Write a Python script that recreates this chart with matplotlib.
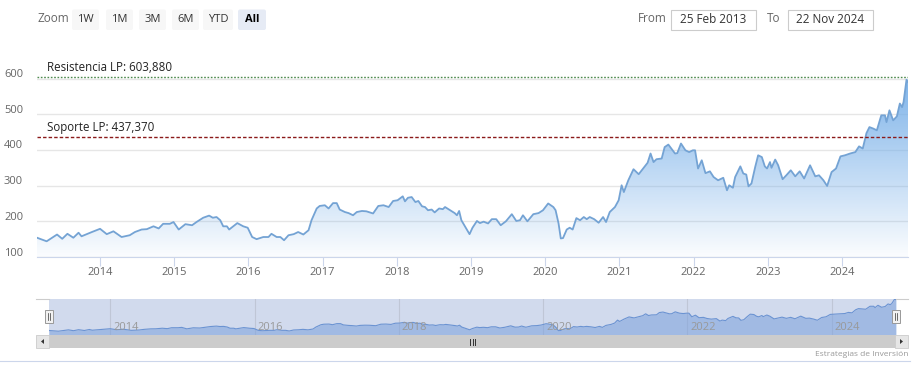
import matplotlib
matplotlib.use("Agg")
import matplotlib.pyplot as plt
import matplotlib.patches as patches
import matplotlib.transforms as mtransforms
import numpy as np

plt.rcParams['font.family'] = ['Open Sans', 'DejaVu Sans']

# Series (decimal year, price)
years = [2013.15, 2013.28, 2013.42, 2013.49, 2013.56, 2013.64, 2013.71, 2013.75, 2013.89, 2014.00,
         2014.09, 2014.18, 2014.29, 2014.40, 2014.47, 2014.56, 2014.63, 2014.72, 2014.79, 2014.85,
         2014.94, 2014.99, 2015.06, 2015.15, 2015.24, 2015.30, 2015.39, 2015.47, 2015.52, 2015.57,
         2015.62, 2015.66, 2015.71, 2015.74, 2015.85, 2015.93, 2015.99, 2016.05, 2016.11, 2016.20,
         2016.27, 2016.31, 2016.38, 2016.43, 2016.48, 2016.54, 2016.61, 2016.67, 2016.74, 2016.81,
         2016.85, 2016.92, 2016.96, 2017.03, 2017.08, 2017.14, 2017.19, 2017.23, 2017.30, 2017.35,
         2017.41, 2017.46, 2017.53, 2017.59, 2017.68, 2017.75, 2017.82, 2017.89, 2017.95, 2018.01,
         2018.08, 2018.11, 2018.15, 2018.20, 2018.25, 2018.29, 2018.34, 2018.38, 2018.42, 2018.47,
         2018.51, 2018.57, 2018.62, 2018.65, 2018.72, 2018.78, 2018.81, 2018.84, 2018.87, 2018.93,
         2018.98, 2019.02, 2019.08, 2019.12, 2019.17, 2019.23, 2019.28, 2019.34, 2019.40, 2019.47,
         2019.55, 2019.61, 2019.66, 2019.70, 2019.76, 2019.84, 2019.91, 2019.97, 2020.04, 2020.11,
         2020.14, 2020.18, 2020.21, 2020.24, 2020.29, 2020.33, 2020.37, 2020.42, 2020.47, 2020.52,
         2020.56, 2020.60, 2020.66, 2020.72, 2020.78, 2020.82, 2020.87, 2020.94, 2020.99, 2021.03,
         2021.06, 2021.12, 2021.19, 2021.26, 2021.32, 2021.38, 2021.42, 2021.46, 2021.50, 2021.57,
         2021.61, 2021.66, 2021.70, 2021.75, 2021.78, 2021.83, 2021.89, 2021.94, 2021.99, 2022.02,
         2022.06, 2022.11, 2022.16, 2022.22, 2022.27, 2022.33, 2022.40, 2022.45, 2022.48, 2022.53,
         2022.56, 2022.63, 2022.67, 2022.71, 2022.74, 2022.78, 2022.83, 2022.87, 2022.92, 2022.96,
         2022.99, 2023.03, 2023.05, 2023.10, 2023.14, 2023.20, 2023.25, 2023.31, 2023.37, 2023.43,
         2023.49, 2023.57, 2023.64, 2023.69, 2023.75, 2023.80, 2023.86, 2023.92, 2023.98, 2024.04,
         2024.11, 2024.18, 2024.23, 2024.28, 2024.33, 2024.37, 2024.42, 2024.47, 2024.53, 2024.58,
         2024.60, 2024.64, 2024.69, 2024.74, 2024.78, 2024.81, 2024.83, 2024.87, 2024.89]
values = [154, 144, 163, 151, 165, 154, 168, 158, 170, 179,
          164, 172, 156, 161, 170, 177, 178, 186, 180, 193,
          193, 198, 177, 192, 189, 198, 210, 216, 210, 212,
          203, 186, 186, 177, 195, 186, 182, 156, 150, 156,
          156, 165, 156, 156, 147, 161, 164, 170, 163, 175,
          203, 236, 243, 245, 236, 251, 251, 233, 226, 223,
          217, 226, 229, 228, 222, 243, 245, 240, 257, 259,
          270, 256, 266, 268, 254, 257, 242, 240, 231, 233,
          225, 236, 234, 240, 231, 223, 217, 229, 203, 182,
          164, 182, 201, 195, 199, 194, 206, 206, 189, 200,
          220, 201, 203, 217, 200, 220, 223, 231, 250, 240,
          231, 194, 152, 153, 177, 182, 177, 209, 203, 212,
          206, 212, 206, 196, 212, 198, 226, 240, 259, 301,
          282, 315, 346, 332, 348, 364, 390, 366, 374, 376,
          408, 415, 404, 390, 391, 418, 399, 394, 399, 399,
          348, 371, 335, 340, 324, 315, 322, 287, 301, 294,
          324, 354, 334, 331, 298, 306, 352, 385, 380, 354,
          348, 366, 350, 373, 357, 318, 329, 343, 326, 340,
          320, 357, 326, 329, 315, 299, 338, 348, 382, 385,
          390, 394, 410, 404, 447, 464, 460, 455, 497, 497,
          478, 511, 483, 494, 530, 520, 534, 597, 590]

resistencia = 603.880
soporte = 437.370
res_label = "Resistencia LP: 603,880"
sop_label = "Soporte LP: 437,370"
year_ticks = list(range(2014, 2025))
nav_ticks = [2014, 2016, 2018, 2020, 2022, 2024]
y_ticks = [100, 200, 300, 400, 500, 600]
zoom_buttons = ["1W", "1M", "3M", "6M", "YTD", "All"]
date_from = "25 Feb 2013"
date_to = "22 Nov 2024"

W, H = 915, 380
fig = plt.figure(figsize=(W / 100, H / 100), dpi=100)

def frac(x0, y0, x1, y1):
    # pixel box (top-left origin) -> figure fraction
    return [x0 / W, 1 - y1 / H, (x1 - x0) / W, (y1 - y0) / H]

# ---- main chart ----
ax = fig.add_axes(frac(37, 60, 908, 257))
ymin, ymax = 100, 652
line_col = '#74a3d4'
base = np.array([0.47, 0.69, 0.91])

fill = ax.fill_between(years, values, ymin, color='none', lw=0)
grad = np.zeros((256, 1, 4))
grad[..., :3] = base
grad[:, 0, 3] = np.linspace(0.95, 0.03, 256)
im = ax.imshow(grad, extent=[years[0], years[-1], ymin, max(values)], aspect='auto',
               origin='upper', zorder=1)
im.set_clip_path(fill.get_paths()[0], transform=ax.transData)
ax.plot(years, values, color=line_col, lw=1.3, zorder=3)

ax.axhline(resistencia, color='#4e8a4e', lw=1, ls=(0, (1.2, 1.2)), zorder=4)
ax.axhline(soporte, color='#8b1a1a', lw=1, ls=(0, (2.5, 1.5)), zorder=4)
ax.annotate(res_label, xy=(10 / 871, resistencia), xycoords=('axes fraction', 'data'),
            xytext=(0, 2), textcoords='offset points', fontsize=8.3, color='#222', va='bottom')
ax.annotate(sop_label, xy=(10 / 871, soporte), xycoords=('axes fraction', 'data'),
            xytext=(0, 2), textcoords='offset points', fontsize=8.3, color='#222', va='bottom')

ax.set_xlim(years[0], years[-1])
ax.set_ylim(ymin, ymax)
ax.set_yticks(y_ticks)
ax.set_yticklabels([str(v) for v in y_ticks])
ax.grid(axis='y', color='#e6e6e6', lw=1, zorder=0)
ax.set_axisbelow(True)
for s in ['top', 'right', 'left']:
    ax.spines[s].set_visible(False)
ax.spines['bottom'].set_color('#ccd6eb')
ax.set_xticks(year_ticks)
ax.set_xticklabels([str(y) for y in year_ticks])
ax.tick_params(axis='x', length=6.5, color='#ccd6eb', labelsize=8, labelcolor='#666', pad=1)
ax.tick_params(axis='y', length=0, labelsize=8, labelcolor='#666', pad=10)
for lab in ax.get_yticklabels():
    lab.set_transform(lab.get_transform() + mtransforms.ScaledTranslation(0, 0.055, fig.dpi_scale_trans))
ax.patch.set_alpha(0)

# ---- navigator ----
nav = fig.add_axes(frac(49, 299, 896, 335))
nav.set_facecolor('#d1daed')
nav.fill_between(years, values, 0, color='#7ba1dc', alpha=0.55, lw=0, zorder=2)
nav.plot(years, values, color='#6b93d2', lw=0.8, zorder=3)
nav.set_xlim(years[0], years[-1])
nav.set_ylim(90, 600)
nav.set_xticks(nav_ticks)
nav.set_xticklabels([])
nav.set_yticks([])
nav.tick_params(length=0)
nav.grid(axis='x', color='#bfc6d6', lw=0.8, zorder=1)
nav.set_axisbelow(True)
for s in nav.spines.values():
    s.set_visible(False)
for y in nav_ticks:
    nav.text(y, 0.2, str(y), transform=nav.get_xaxis_transform(), fontsize=8,
             color='#999', ha='left', va='center', zorder=4)
for t in nav.texts:
    t.set_transform(t.get_transform() + mtransforms.ScaledTranslation(0.03, 0, fig.dpi_scale_trans))

# ---- UI overlay (pixel coordinates) ----
ui = fig.add_axes([0, 0, 1, 1], zorder=5)
ui.set_xlim(0, W)
ui.set_ylim(H, 0)
ui.axis('off')
ui.patch.set_alpha(0)

ui.text(38, 19, "Zoom", fontsize=8.5, color='#666', va='center', ha='left')
btn_x = [72, 106, 139, 172, 203, 238]
btn_w = [27, 27, 27, 27, 30, 28]
for lbl, bx, bw in zip(zoom_buttons, btn_x, btn_w):
    active = lbl == "All"
    ui.add_patch(patches.FancyBboxPatch((bx, 9.5), bw, 20.5, boxstyle="round,pad=0,rounding_size=2",
                                        fc='#e6ebf5' if active else '#f7f7f7', ec='none'))
    ui.text(bx + bw / 2, 19.5, lbl, fontsize=8, color='#000' if active else '#333',
            fontweight='bold' if active else 'normal', ha='center', va='center')

ui.text(638, 19, "From", fontsize=8.5, color='#666', va='center', ha='left')
ui.add_patch(patches.Rectangle((671, 9.5), 85, 20.5, fc='white', ec='#cccccc', lw=0.8))
ui.text(713.5, 19.5, date_from, fontsize=8.5, color='#333', ha='center', va='center')
ui.text(767, 19, "To", fontsize=8.5, color='#666', va='center', ha='left')
ui.add_patch(patches.Rectangle((788, 9.5), 85, 20.5, fc='white', ec='#cccccc', lw=0.8))
ui.text(830.5, 19.5, date_to, fontsize=8.5, color='#333', ha='center', va='center')

# navigator outline bits
ui.plot([36, 49], [299, 299], color='#cccccc', lw=0.8)
ui.plot([896, 908], [299, 299], color='#cccccc', lw=0.8)

# scrollbar
ui.add_patch(patches.Rectangle((36, 335), 872, 13, fc='#f2f2f2', ec='none'))
ui.add_patch(patches.Rectangle((49, 335), 847, 13, fc='#cccccc', ec='none'))
ui.add_patch(patches.Rectangle((36, 335), 13, 13, fc='#e6e6e6', ec='#cccccc', lw=0.6))
ui.add_patch(patches.Rectangle((895, 335), 13, 13, fc='#e6e6e6', ec='#cccccc', lw=0.6))
ui.add_patch(patches.Polygon([[44, 339], [44, 344], [41, 341.5]], fc='#333', ec='none'))
ui.add_patch(patches.Polygon([[900, 339], [900, 344], [903, 341.5]], fc='#333', ec='none'))
for dx in (-2.5, 0, 2.5):
    ui.plot([472.5 + dx, 472.5 + dx], [338.5, 344.5], color='#333', lw=0.7)

# handles
for hx in (49, 896):
    ui.add_patch(patches.Rectangle((hx - 4, 310), 8, 13, fc='#f2f2f2', ec='#999999', lw=0.7))
    ui.plot([hx - 1, hx - 1], [313, 320], color='#333', lw=0.5)
    ui.plot([hx + 1, hx + 1], [313, 320], color='#333', lw=0.5)

ui.plot([0, 910], [361, 361], color='#ccd6eb', lw=0.8)
ui.text(908, 354, "Estrategias de Inversión", fontsize=6, color='#999', ha='right', va='center')

fig.savefig("out.png", dpi=100)
